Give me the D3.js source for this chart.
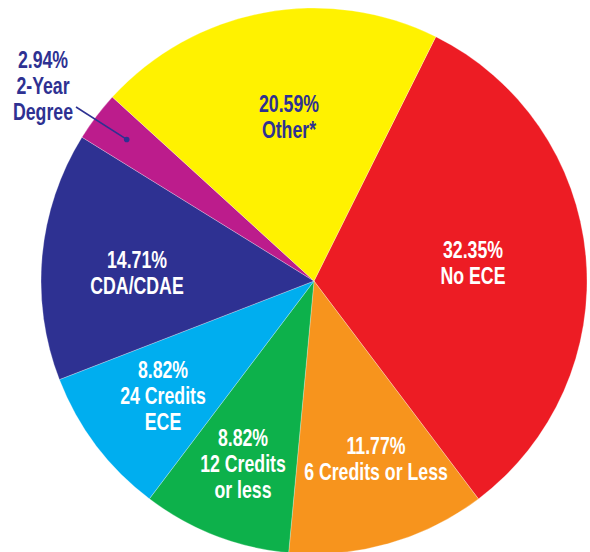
<!DOCTYPE html>
<html>
<head>
<meta charset="utf-8">
<script src="https://cdn.jsdelivr.net/npm/d3@7"></script>
<style>
  html, body { margin: 0; padding: 0; background: #fff; }
  svg { display: block; }
  .lbl { font-family: "Liberation Sans", Arial, sans-serif; font-weight: bold; font-size: 23px; }
</style>
</head>
<body>
<svg id="chart" width="590" height="552"></svg>
<script>
// Education levels, in drawing order (clockwise from the red slice)
const categories = ["No ECE", "6 Credits or Less", "12 Credits or less", "24 Credits ECE", "CDA/CDAE", "2-Year Degree", "Other*"];
const shares     = [32.35, 11.77, 8.82, 8.82, 14.71, 2.94, 20.59];
const colors     = ["#ed1c24", "#f7941d", "#0db14b", "#00aeef", "#2e3192", "#bc1c8c", "#fff200"];
const labelLines = [["No ECE"], ["6 Credits or Less"], ["12 Credits", "or less"], ["24 Credits", "ECE"], ["CDA/CDAE"], ["2-Year", "Degree"], ["Other*"]];
const labelColors = ["#fff", "#fff", "#fff", "#fff", "#fff", "#2e3192", "#2e3192"];

// Layout
const W = 590, H = 552;
const cx = 314, cy = 281, R = 273;
const startDeg = 26.5;
// label anchors (centre x, first baseline), relative to pie centre
const labelAnchor = [[159, -23], [62, 173], [-71, 165], [-151, 97], [-177, -13], [-271, -213], [-25, -169]];
const lineGap = 26;
const squeeze = 0.77;

const svg = d3.select("#chart");
const g = svg.append("g").attr("transform", `translate(${cx},${cy})`);

const pie = d3.pie().sort(null)
  .startAngle(startDeg * Math.PI / 180)
  .endAngle(startDeg * Math.PI / 180 + 2 * Math.PI)
  .value(d => d);
const arc = d3.arc().innerRadius(0).outerRadius(R);
const arcs = pie(shares);

g.selectAll("path.slice")
  .data(arcs)
  .join("path")
  .attr("class", "slice")
  .attr("d", arc)
  .attr("fill", (d, i) => colors[i])
  .attr("stroke", "rgba(255,255,255,0.45)")
  .attr("stroke-width", 0.6);

// leader for the small slice
const small = arcs[5];
const midA = (small.startAngle + small.endAngle) / 2;
const dotR = R * 0.86;
const dot = [Math.sin(midA) * dotR, -Math.cos(midA) * dotR];
g.append("line")
  .attr("x1", -238).attr("y1", -174)
  .attr("x2", dot[0]).attr("y2", dot[1])
  .attr("stroke", "#2e3192").attr("stroke-width", 1.6);
g.append("circle")
  .attr("cx", dot[0]).attr("cy", dot[1]).attr("r", 2.8)
  .attr("fill", "#2e3192");

// labels
const fmt = v => v.toFixed(2) + "%";
arcs.forEach((a, i) => {
  const [lx, ly] = labelAnchor[i];
  const lines = [fmt(shares[i])].concat(labelLines[i]);
  const t = g.append("text")
    .attr("class", "lbl")
    .attr("text-anchor", "middle")
    .attr("fill", labelColors[i])
    .attr("transform", `translate(${lx},${ly}) scale(${squeeze},1)`);
  lines.forEach((s, k) => {
    t.append("tspan").attr("x", 0).attr("y", k * lineGap).text(s);
  });
});
</script>
</body>
</html>
